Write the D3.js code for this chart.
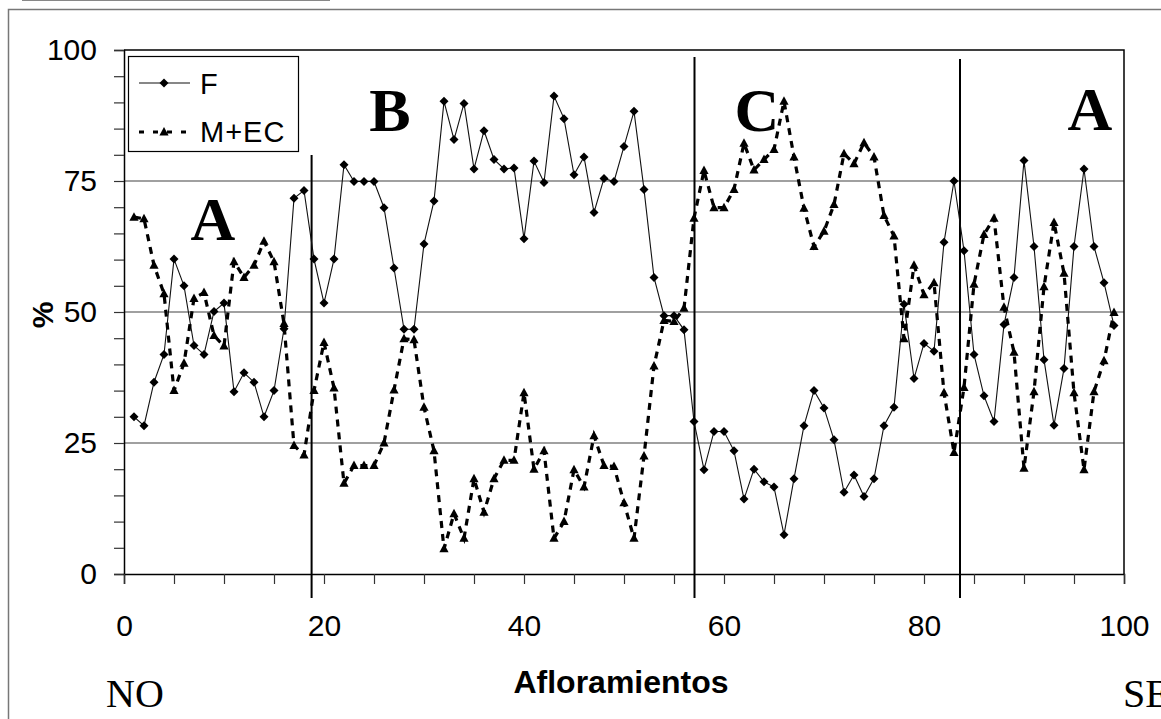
<!DOCTYPE html>
<html>
<head>
<meta charset="utf-8">
<script src="https://cdn.jsdelivr.net/npm/d3@7"></script>
<style>
  html, body { margin: 0; padding: 0; background: #fff; }
  svg { display: block; }
</style>
</head>
<body>
<svg id="chart" width="1161" height="719"></svg>
<script>
// ---- data ----
const afloramientos = d3.range(1, 100);
const seriesF = [30, 28.3, 36.6, 41.9, 60.1, 55, 43.6, 41.9, 50.1, 51.7,
  34.8, 38.4, 36.6, 30, 35, 46.8, 71.7, 73.2, 60.1, 51.7,
  60.1, 78.1, 74.9, 74.9, 74.9, 69.9, 58.4, 46.7, 46.7, 63,
  71.2, 90.2, 82.9, 89.8, 77.3, 84.6, 79.1, 77.3, 77.5, 64,
  78.8, 74.7, 91.2, 86.9, 76.2, 79.6, 69, 75.5, 74.9, 81.6,
  88.3, 73.4, 56.6, 49.3, 49.3, 46.6, 29.1, 19.9, 27.2, 27.2,
  23.5, 14.3, 20, 17.6, 16.6, 7.5, 18.2, 28.3, 35, 31.7,
  25.6, 15.6, 18.9, 14.8, 18.2, 28.3, 31.8, 51.5, 37.3, 44,
  42.5, 63.3, 75, 61.7, 41.9, 34, 29.1, 47.6, 56.6, 78.9,
  62.5, 40.9, 28.4, 39.2, 62.5, 77.3, 62.5, 55.6, 47.4];
const seriesMEC = [68.1, 67.8, 58.9, 53.5, 35, 40.2, 52.6, 53.7, 45.5, 43.5,
  59.6, 56.6, 58.9, 63.5, 59.6, 47.8, 24.5, 22.7, 35, 44.2,
  35.5, 17.3, 20.7, 20.7, 20.7, 25, 35.1, 44.9, 44.7, 31.8,
  23.5, 4.8, 11.5, 6.8, 18.2, 11.8, 18.2, 21.7, 21.7, 34.6,
  20, 23.5, 6.8, 10, 19.9, 16.6, 26.4, 20.7, 20.5, 13.6,
  6.8, 22.5, 39.7, 48.4, 48.2, 50.7, 67.9, 77, 69.9, 69.9,
  73.4, 82.2, 77.1, 79.1, 81, 90.2, 79.6, 69.8, 62.5, 65.4,
  70.5, 80.2, 78.3, 82.3, 79.6, 68.4, 64.5, 44.9, 58.9, 53.3,
  55.6, 34.6, 23.2, 35.6, 55.3, 64.8, 67.9, 50.9, 42.3, 20.2,
  34.8, 54.8, 67.1, 57.4, 34.6, 19.9, 34.8, 40.7, 49.9];
const xTicks = d3.range(0, 101, 5);
const xTickLabels = [0, 20, 40, 60, 80, 100];
const yTicks = d3.range(0, 101, 5);
const yTickLabels = [0, 25, 50, 75, 100];
const gridValues = [25, 50, 75];
const boundaries = [18.76, 57.05, 83.6];
const zoneLabels = ["A", "B", "C", "A"];
const seriesNames = ["F", "M+EC"];

// ---- layout ----
const svg = d3.select("#chart");
const x = d3.scaleLinear().domain([0, 100]).range([124, 1124]);
const y = d3.scaleLinear().domain([0, 100]).range([574, 50]);
const sans = "Arial, 'Liberation Sans', sans-serif";
const serif = "'Times New Roman', 'Liberation Serif', serif";

// outer frame (cropped)
svg.append("rect").attr("x", 8.5).attr("y", 9.5).attr("width", 1200).attr("height", 760)
  .attr("fill", "none").attr("stroke", "#777").attr("stroke-width", 1.5);
// top remnant of previous figure
svg.append("line").attr("x1", 22).attr("x2", 330).attr("y1", 0.5).attr("y2", 0.5)
  .attr("stroke", "#888").attr("stroke-width", 1);

// gridlines
svg.append("g").selectAll("line").data(gridValues).join("line")
  .attr("x1", x(0)).attr("x2", x(100))
  .attr("y1", d => y(d)).attr("y2", d => y(d))
  .attr("stroke", "#808080").attr("stroke-width", 1.3);

// plot frame top & right
svg.append("path")
  .attr("d", `M${x(0)},${y(100)}H${x(100)}V${y(0)}`)
  .attr("fill", "none").attr("stroke", "#000").attr("stroke-width", 1.5);

// axes
const yAxis = d3.axisLeft(y).tickValues(yTicks).tickSize(10).tickPadding(17)
  .tickFormat(d => yTickLabels.includes(d) ? d : "");
const gy = svg.append("g").attr("transform", `translate(${x(0)},0)`).call(yAxis);
gy.select(".domain").attr("stroke", "#000").attr("stroke-width", 1.5);
gy.selectAll(".tick line").attr("stroke", "#333").attr("stroke-width", 1.2);
gy.selectAll(".tick text").attr("font-family", sans).attr("font-size", 30).attr("fill", "#000");

const xAxis = d3.axisBottom(x).tickValues(xTicks).tickSize(10).tickPadding(31)
  .tickFormat(d => xTickLabels.includes(d) ? d : "");
const gx = svg.append("g").attr("transform", `translate(0,${y(0)})`).call(xAxis);
gx.select(".domain").attr("stroke", "#000").attr("stroke-width", 1.5);
gx.selectAll(".tick line").attr("stroke", "#333").attr("stroke-width", 1.2);
gx.selectAll(".tick text").attr("font-family", sans).attr("font-size", 30).attr("fill", "#000");

// zone boundaries
const bTops = [155, 57, 59];
svg.append("g").selectAll("line").data(boundaries).join("line")
  .attr("x1", d => x(d)).attr("x2", d => x(d))
  .attr("y1", (d, i) => bTops[i]).attr("y2", 598)
  .attr("stroke", "#000").attr("stroke-width", 2);

// series lines
const pts = (vals) => afloramientos.map((a, i) => [a, vals[i]]);
const line = d3.line().x(d => x(d[0])).y(d => y(d[1]));
svg.append("path").datum(pts(seriesF)).attr("d", line)
  .attr("fill", "none").attr("stroke", "#111").attr("stroke-width", 1.1);
svg.append("path").datum(pts(seriesMEC)).attr("d", line)
  .attr("fill", "none").attr("stroke", "#000").attr("stroke-width", 3.2)
  .attr("stroke-dasharray", "7,6");

// markers
const diamond = "M0,-4.5L4.5,0L0,4.5L-4.5,0Z";
const tri = "M0,-5L4.6,3.5L-4.6,3.5Z";
svg.append("g").selectAll("path").data(pts(seriesF)).join("path")
  .attr("d", diamond).attr("fill", "#000")
  .attr("transform", d => `translate(${x(d[0])},${y(d[1])})`);
svg.append("g").selectAll("path").data(pts(seriesMEC)).join("path")
  .attr("d", tri).attr("fill", "#000")
  .attr("transform", d => `translate(${x(d[0])},${y(d[1])})`);

// zone letters
const zonePos = [[213, 240], [390, 131], [757, 131], [1090, 130]];
svg.append("g").selectAll("text").data(zoneLabels).join("text")
  .attr("x", (d, i) => zonePos[i][0]).attr("y", (d, i) => zonePos[i][1])
  .attr("text-anchor", "middle").attr("font-family", serif)
  .attr("font-weight", "bold").attr("font-size", 62).text(d => d);

// legend
const lg = svg.append("g");
lg.append("rect").attr("x", 128.5).attr("y", 56.5).attr("width", 170).attr("height", 95)
  .attr("fill", "#fff").attr("stroke", "#000").attr("stroke-width", 1.2);
lg.append("line").attr("x1", 139).attr("x2", 190).attr("y1", 83).attr("y2", 83)
  .attr("stroke", "#111").attr("stroke-width", 1.1);
lg.append("path").attr("d", diamond).attr("transform", "translate(164,83)").attr("fill", "#000");
lg.append("line").attr("x1", 139).attr("x2", 192).attr("y1", 132).attr("y2", 132)
  .attr("stroke", "#000").attr("stroke-width", 3.2).attr("stroke-dasharray", "5,9");
lg.append("path").attr("d", tri).attr("transform", "translate(164,132)").attr("fill", "#000");
lg.selectAll("text.lab").data(seriesNames).join("text").attr("class", "lab")
  .attr("x", 200).attr("y", (d, i) => i === 0 ? 94 : 142)
  .attr("font-family", sans).attr("font-size", 29).attr("letter-spacing", i => 1)
  .text(d => d);

// axis titles
svg.append("text").attr("transform", "translate(53,315) rotate(-90)")
  .attr("text-anchor", "middle").attr("font-family", sans).attr("font-weight", "bold")
  .attr("font-size", 30).text("%");
svg.append("text").attr("x", 621).attr("y", 693).attr("text-anchor", "middle")
  .attr("font-family", sans).attr("font-weight", "bold").attr("font-size", 32)
  .text("Afloramientos");
svg.append("text").attr("x", 106).attr("y", 707).attr("font-family", serif)
  .attr("font-size", 40).text("NO");
svg.append("text").attr("x", 1123).attr("y", 707).attr("font-family", serif)
  .attr("font-size", 40).text("SE");
</script>
</body>
</html>
